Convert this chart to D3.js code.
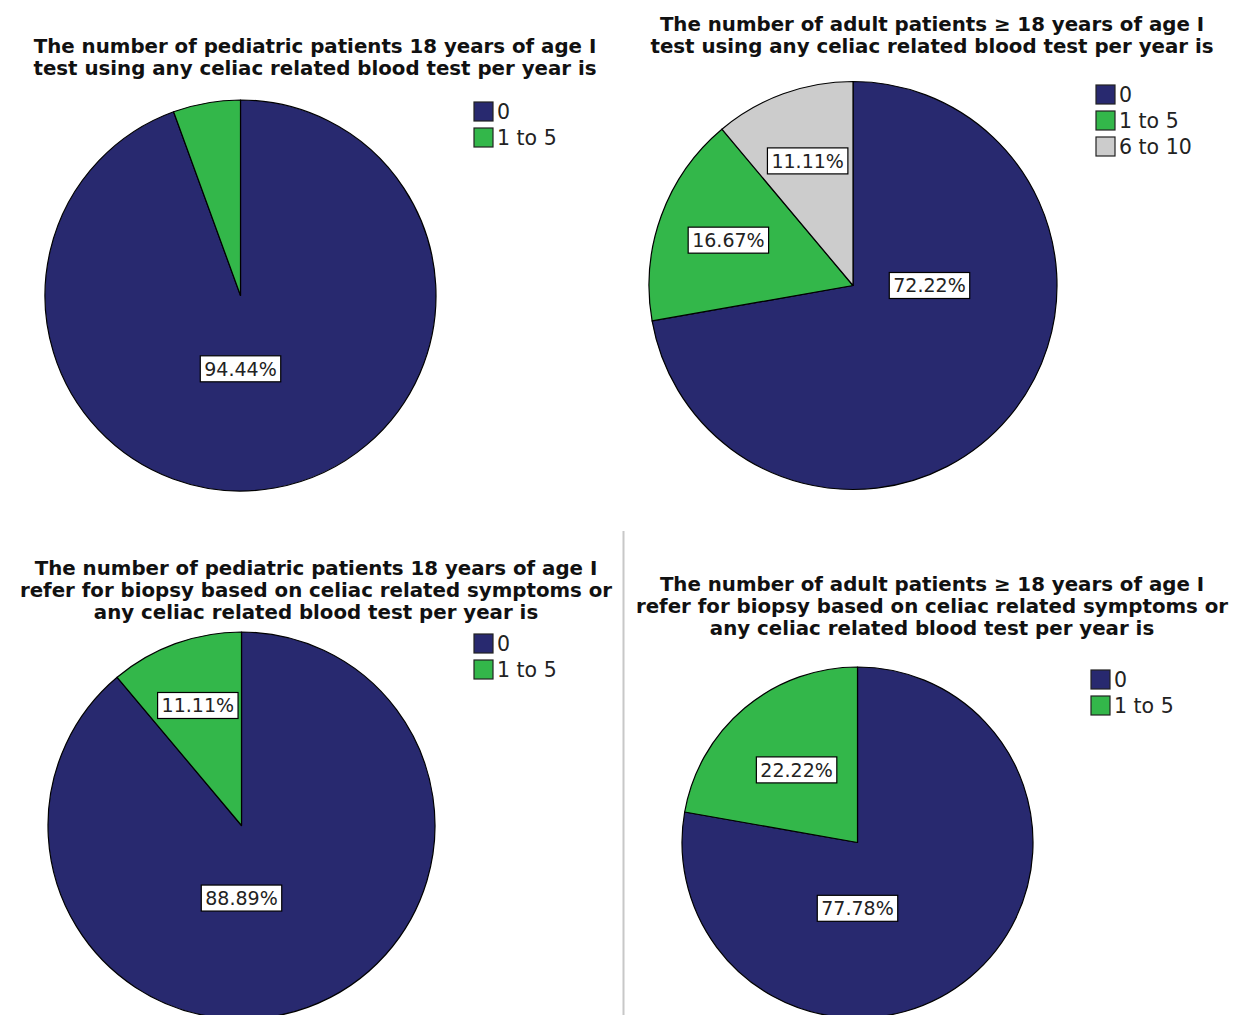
<!DOCTYPE html>
<html>
<head>
<meta charset="utf-8">
<script src="https://cdn.jsdelivr.net/npm/d3@7"></script>
<style>
  body { margin: 0; background: #fff; }
  svg { display: block; }
  text { font-family: 'DejaVu Sans', sans-serif; }
</style>
</head>
<body>
<script>
// chart data
const titles = [
  ['The number of pediatric patients 18 years of age I',
   'test using any celiac related blood test per year is'],
  ['The number of adult patients \u2265 18 years of age I',
   'test using any celiac related blood test per year is'],
  ['The number of pediatric patients 18 years of age I',
   'refer for biopsy based on celiac related symptoms or',
   'any celiac related blood test per year is'],
  ['The number of adult patients \u2265 18 years of age I',
   'refer for biopsy based on celiac related symptoms or',
   'any celiac related blood test per year is']
];
const categories = [
  ['0', '1 to 5'],
  ['0', '1 to 5', '6 to 10'],
  ['0', '1 to 5'],
  ['0', '1 to 5']
];
const percents = [
  [94.44, 5.56],
  [72.22, 16.67, 11.11],
  [88.89, 11.11],
  [77.78, 22.22]
];
const allCategories = ['0', '1 to 5', '6 to 10'];

// layout
const width = 1236;
const height = 1015;
const panels = [
  { cx: 240.5, cy: 295.5, r: 195.5, tx: 315, ty: 53, lx: 474, ly: 102, labelR: 0.65 },
  { cx: 853, cy: 285.5, r: 204, tx: 932, ty: 31, lx: 1096, ly: 85, labelR: 0.65 },
  { cx: 241.5, cy: 825.5, r: 193.5, tx: 316, ty: 575, lx: 474, ly: 634, labelR: 0.66 },
  { cx: 857.5, cy: 842.5, r: 175.5, tx: 932, ty: 591, lx: 1091, ly: 670, labelR: 0.54 }
];

const colour = d3.scaleOrdinal()
  .domain(allCategories)
  .range(['#28296f', '#33b74a', '#cccccc']);

const svg = d3.select('body').append('svg')
  .attr('width', width)
  .attr('height', height)
  .attr('viewBox', [0, 0, width, height]);

// divider between the lower charts
svg.append('line')
  .attr('x1', 623.5).attr('x2', 623.5)
  .attr('y1', 531).attr('y2', height)
  .attr('stroke', '#c8c8c8')
  .attr('stroke-width', 2);

const pie = d3.pie().sort(null).value((d) => d.value);

panels.forEach((p, i) => {
  const data = categories[i].map((c, j) => ({ cat: c, value: percents[i][j] }));
  const arcs = pie(data);
  const arc = d3.arc().innerRadius(0).outerRadius(p.r);

  const g = svg.append('g');

  // title
  g.append('text')
    .attr('text-anchor', 'middle')
    .attr('font-weight', 'bold')
    .attr('font-size', '19.8px')
    .attr('fill', '#111')
    .selectAll('tspan')
    .data(titles[i])
    .join('tspan')
    .attr('x', p.tx)
    .attr('y', (d, k) => p.ty + k * 22)
    .text((d) => d);

  // slices
  const pieG = g.append('g').attr('transform', `translate(${p.cx},${p.cy})`);
  pieG.selectAll('path')
    .data(arcs)
    .join('path')
    .attr('d', arc)
    .attr('fill', (d) => colour(d.data.cat))
    .attr('stroke', '#000')
    .attr('stroke-width', 1.2)
    .attr('stroke-linejoin', 'round');

  // labels
  arcs.filter((d) => d.data.value >= 10).forEach((d) => {
    let pos;
    if (d.data.value > 50) {
      // big slice: put label on the cardinal direction nearest the mid angle
      const mid = (d.startAngle + d.endAngle) / 2;
      const cards = [0, Math.PI / 2, Math.PI, 1.5 * Math.PI]
        .filter((a) => a > d.startAngle && a < d.endAngle);
      const a = cards.reduce((b, c) => (Math.abs(c - mid) < Math.abs(b - mid) ? c : b), cards[0]);
      const k = p.r * 0.375;
      pos = d3.arc().innerRadius(k).outerRadius(k).centroid({ startAngle: a, endAngle: a });
    } else {
      const k = p.r * p.labelR;
      const mid = (d.startAngle + d.endAngle) / 2;
      pos = d3.arc().innerRadius(k).outerRadius(k).centroid({ startAngle: mid, endAngle: mid });
    }
    const lg = pieG.append('g').attr('transform', `translate(${pos[0]},${pos[1]})`);
    const rect = lg.append('rect');
    const t = lg.append('text')
      .attr('text-anchor', 'middle')
      .attr('dy', '0.36em')
      .attr('font-size', '19px')
      .attr('fill', '#222')
      .text(d.data.value.toFixed(2) + '%');
    const bb = t.node().getBBox();
    rect.attr('x', -bb.width / 2 - 4)
      .attr('y', -13)
      .attr('width', bb.width + 8)
      .attr('height', 26)
      .attr('fill', '#fff')
      .attr('stroke', '#000')
      .attr('stroke-width', 1.2);
  });

  // legend
  const leg = g.append('g').attr('transform', `translate(${p.lx},${p.ly})`);
  const rows = leg.selectAll('g')
    .data(categories[i])
    .join('g')
    .attr('transform', (d, k) => `translate(0,${k * 26})`);
  rows.append('rect')
    .attr('width', 19)
    .attr('height', 19)
    .attr('fill', (d) => colour(d))
    .attr('stroke', '#222')
    .attr('stroke-width', 1.2);
  rows.append('text')
    .attr('x', 23)
    .attr('y', 10)
    .attr('dy', '0.36em')
    .attr('font-size', '20.5px')
    .attr('fill', '#222')
    .text((d) => d);
});
</script>
</body>
</html>
